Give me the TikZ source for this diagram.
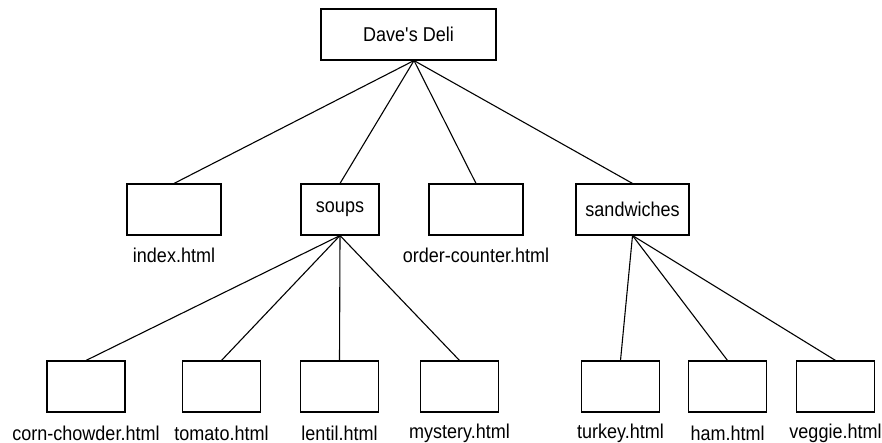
\documentclass[tikz,border=0pt]{standalone}
\usepackage{fontspec}
\setmainfont{Liberation Sans}[FakeStretch=0.9]
\usetikzlibrary{positioning}

\begin{document}
\begin{tikzpicture}[x=1pt,y=-1pt,line width=1.1pt]

\tikzstyle{every node}=[font=\fontsize{20}{23}\selectfont]
\tikzstyle{page}=[draw,minimum height=51pt,inner sep=0pt]
\tikzstyle{file}=[inner sep=0pt]

\useasboundingbox (0,0) rectangle (882,443);

% top of the site
    \node[page,minimum width=175pt] (deli) at (408.5,34.5) {Dave\textquotesingle s Deli};

% second level
    \node[page,minimum width=94pt] (index) at (174,209.5) {};
    \node[page,minimum width=78pt] (soups) at (340,209.5) {soups};
    \node[page,minimum width=94pt] (counter) at (476,209.5) {};
    \node[page,minimum width=113pt] (sandwiches) at (632.5,209.5) {sandwiches};
    \node[file] at (174,255) {index.html};
    \node[file] at (476,255) {order-counter.html};

% soup pages
    \node[page,minimum width=78pt] (corn) at (86,386.5) {};
    \node[page,minimum width=78pt] (tomato) at (221.5,386.5) {};
    \node[page,minimum width=78pt] (lentil) at (339.5,386.5) {};
    \node[page,minimum width=78pt] (mystery) at (459.5,386.5) {};
    \node[file] at (86,433) {corn-chowder.html};
    \node[file] at (221.5,433) {tomato.html};
    \node[file] at (339.5,433) {lentil.html};
    \node[file] at (459.5,433) {mystery.html};

% sandwich pages
    \node[page,minimum width=78pt] (turkey) at (620.5,386.5) {};
    \node[page,minimum width=78pt] (ham) at (727.5,386.5) {};
    \node[page,minimum width=78pt] (veggie) at (835.5,386.5) {};
    \node[file] at (620.5,433) {turkey.html};
    \node[file] at (727.5,433) {ham.html};
    \node[file] at (835.5,433) {veggie.html};

% links
  \foreach \n in {index,soups,counter,sandwiches}
    \draw ([xshift=5.5pt]deli.south) -- (\n.north);
  \foreach \n in {corn,tomato,lentil,mystery}
    \draw (soups.south) -- (\n.north);
  \foreach \n in {turkey,ham,veggie}
    \draw (sandwiches.south) -- (\n.north);
\end{tikzpicture}
\end{document}
